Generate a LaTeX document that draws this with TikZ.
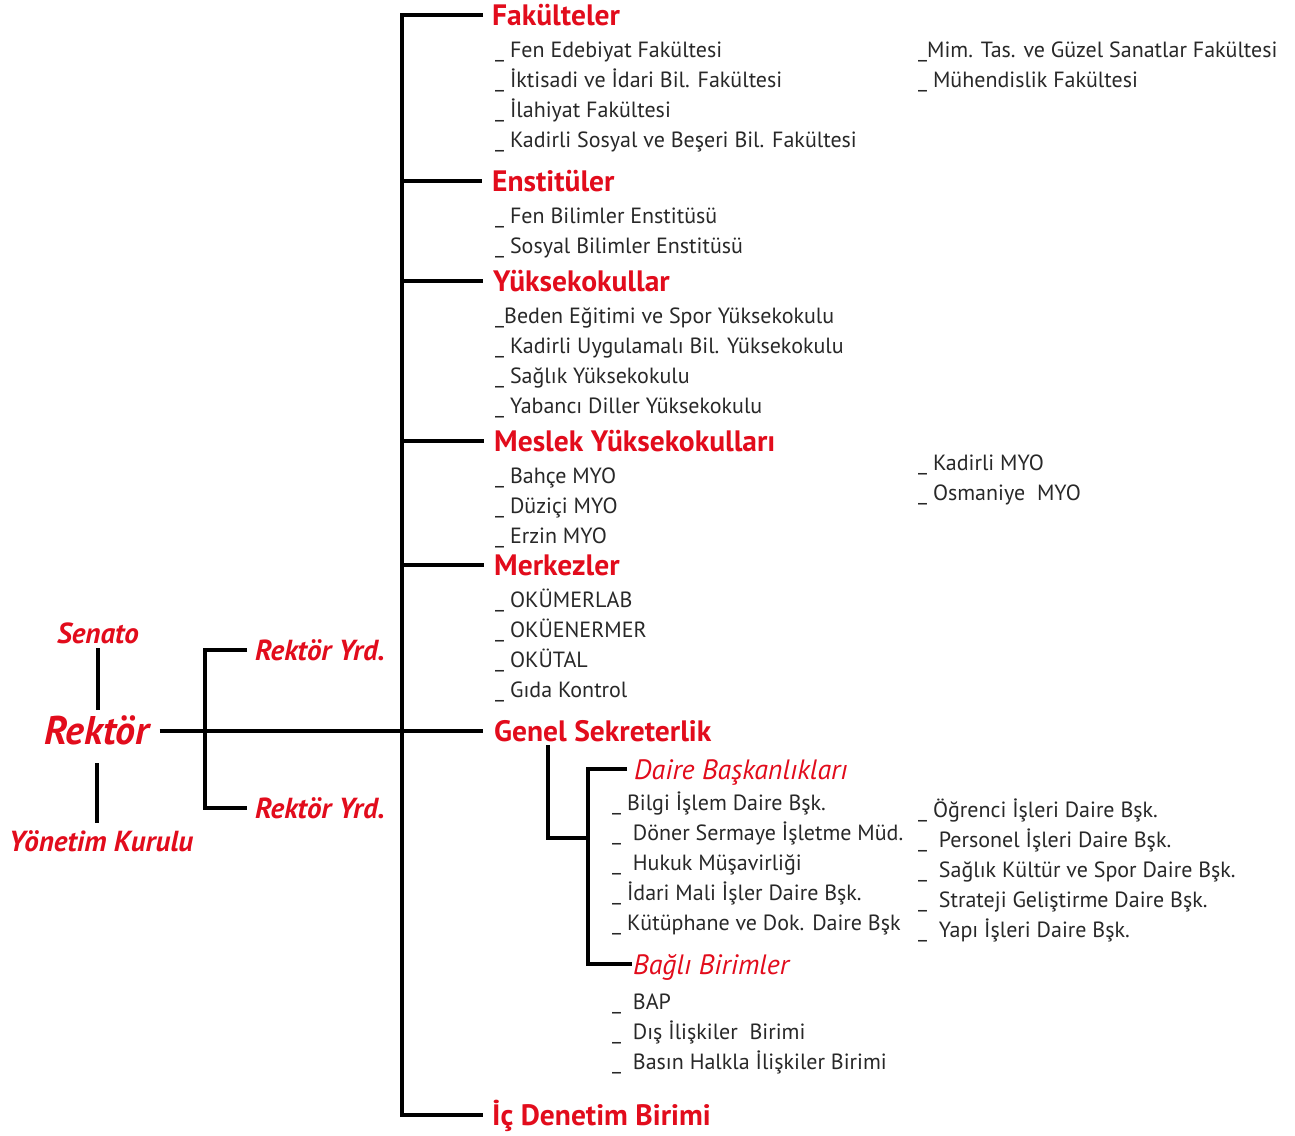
\documentclass[tikz,border=0pt]{standalone}
\usepackage{fontspec}
\setmainfont{PT Sans}
\definecolor{hred}{RGB}{226,12,28}
\definecolor{itxt}{RGB}{40,40,40}
\begin{document}
\begin{tikzpicture}[x=1pt,y=-1pt,
  conn/.style={line width=3.6pt,black},
  lbl/.style={inner sep=0pt,text depth=0pt},
  head/.style={lbl,anchor=west,text height=20pt,text=hred,font=\fontsize{29.5}{34}\selectfont\bfseries},
  item/.style={lbl,anchor=west,text height=18pt,text=itxt,font=\fontsize{22}{26}\selectfont},
  sub/.style={lbl,anchor=west,text height=20pt,text=hred,font=\fontsize{28}{32}\selectfont\itshape},
  lead/.style={lbl,anchor=center,text height=20pt,text=hred,font=\fontsize{29}{34}\selectfont\bfseries\itshape},
  leadw/.style={lead,anchor=west}]
\useasboundingbox[fill=white] (0,0) rectangle (1295,1135);
% left side
\node[lead,text height=26pt,font=\fontsize{40}{46}\selectfont\bfseries\itshape] (rek) at (97,731) {Rektör};
\node[lead] (sen) at (98,633) {Senato};
\node[lead,text height=22pt] (yk) at (101,840) {Yönetim Kurulu};
\node[leadw] (ry1) at (255,650) {Rektör Yrd.};
\node[leadw] (ry2) at (255,808) {Rektör Yrd.};
% headings
\node[head] (fak) at (492,15) {Fakülteler};
\node[head] (ens) at (492,181) {Enstitüler};
\node[head] (yuk) at (493,281) {Yüksekokullar};
\node[head] (mes) at (494,441) {Meslek Yüksekokulları};
\node[head] (mer) at (494,565) {Merkezler};
\node[head] (gs) at (494,731) {Genel Sekreterlik};
\node[head] (icd) at (492,1115) {İç Denetim Birimi};
% Fakulteler
\node[item] (f1) at (495,48) {\_ Fen Edebiyat Fakültesi};
\node[item] (f2) at (495,78) {\_ İktisadi ve İdari Bil. Fakültesi};
\node[item] (f3) at (495,108) {\_ İlahiyat Fakültesi};
\node[item] (f4) at (495,138) {\_ Kadirli Sosyal ve Beşeri Bil. Fakültesi};
\node[item] (f5) at (918,48) {\_Mim. Tas. ve Güzel Sanatlar Fakültesi};
\node[item] (f6) at (918,78) {\_ Mühendislik Fakültesi};
% Enstituler
\node[item] (e1) at (495,214) {\_ Fen Bilimler Enstitüsü};
\node[item] (e2) at (495,244) {\_ Sosyal Bilimler Enstitüsü};
% Yuksekokullar
\node[item] (y1) at (495,314) {\_Beden Eğitimi ve Spor Yüksekokulu};
\node[item] (y2) at (495,344) {\_ Kadirli Uygulamalı Bil. Yüksekokulu};
\node[item] (y3) at (495,374) {\_ Sağlık Yüksekokulu};
\node[item] (y4) at (495,404) {\_ Yabancı Diller Yüksekokulu};
% MYO
\node[item] (m1) at (495,474) {\_ Bahçe MYO};
\node[item] (m2) at (495,504) {\_ Düziçi MYO};
\node[item] (m3) at (495,534) {\_ Erzin MYO};
\node[item] (m4) at (918,461) {\_ Kadirli MYO};
\node[item] (m5) at (918,491) {\_ Osmaniye\ \ MYO};
% Merkezler
\node[item] (k1) at (495,598) {\_ OKÜMERLAB};
\node[item] (k2) at (495,628) {\_ OKÜENERMER};
\node[item] (k3) at (495,658) {\_ OKÜTAL};
\node[item] (k4) at (495,688) {\_ Gıda Kontrol};
% Daire Baskanliklari
\node[sub] (db) at (634,769) {Daire Başkanlıkları};
\node[item] (d1) at (612,801) {\_ Bilgi İşlem Daire Bşk.};
\node[item] (d2) at (612,831) {\_\ \ Döner Sermaye İşletme Müd.};
\node[item] (d3) at (612,861) {\_\ \ Hukuk Müşavirliği};
\node[item] (d4) at (612,891) {\_ İdari Mali İşler Daire Bşk.};
\node[item] (d5) at (612,921) {\_ Kütüphane ve Dok. Daire Bşk};
\node[item] (d6) at (918,808) {\_ Öğrenci İşleri Daire Bşk.};
\node[item] (d7) at (918,838) {\_\ \ Personel İşleri Daire Bşk.};
\node[item] (d8) at (918,868) {\_\ \ Sağlık Kültür ve Spor Daire Bşk.};
\node[item] (d9) at (918,898) {\_\ \ Strateji Geliştirme Daire Bşk.};
\node[item] (d10) at (918,928) {\_\ \ Yapı İşleri Daire Bşk.};
% Bagli Birimler
\node[sub] (bb) at (633,964) {Bağlı Birimler};
\node[item] (b1) at (612,1000) {\_\ \ BAP};
\node[item] (b2) at (612,1030) {\_\ \ Dış İlişkiler\ \ Birimi};
\node[item] (b3) at (612,1060) {\_\ \ Basın Halkla İlişkiler Birimi};
% connectors
\coordinate (tr) at (402,0);
\draw[conn] ([xshift=-9pt]fak.west) -- (fak.west -| tr) -- (icd.west -| tr) -- ([xshift=-9pt]icd.west);
\foreach \n in {ens,yuk,mes,mer}
  \draw[conn] (\n.west -| tr) -- ([xshift=-10pt]\n.west);
\draw[conn] ([xshift=10pt]rek.east) -- ([xshift=-11pt]gs.west);
\coordinate (yb) at (205,0);
\draw[conn] ([xshift=-8pt]ry1.west) -- (ry1.west -| yb) -- (ry2.west -| yb) -- ([xshift=-8pt]ry2.west);
\draw[conn,shorten <=5pt,shorten >=8pt] (sen.south) -- (sen.south |- rek.north);
\draw[conn,shorten <=19pt,shorten >=6pt] (rek.south) -- (rek.south |- yk.north);
\coordinate (gsb) at (548,0);
\coordinate (gsk) at (548,838);
\coordinate (dbb) at (588,838);
\draw[conn,shorten <=4pt] (gs.south -| gsb) -- (gsk) -- (dbb);
\draw[conn] ([xshift=-7pt]db.west) -- (db.west -| dbb) -- (bb.west -| dbb) -- ([xshift=-1pt]bb.west);
\end{tikzpicture}
\end{document}
